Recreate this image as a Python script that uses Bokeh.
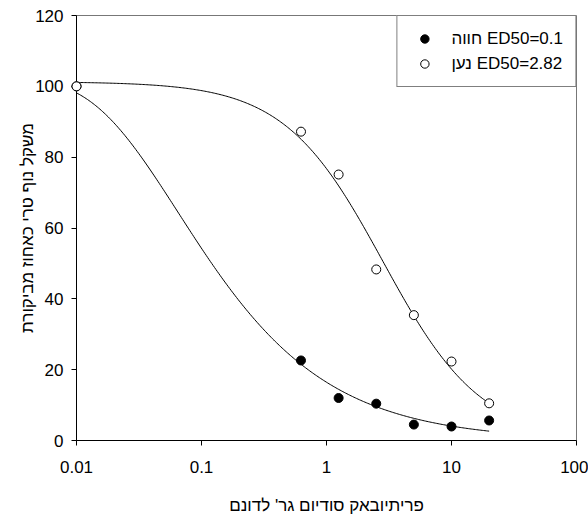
import numpy as np
from bokeh.plotting import figure
from bokeh.models import Range1d, Legend, LegendItem, FixedTicker, CustomJSTickFormatter
from bokeh.embed import file_html
from bokeh.resources import INLINE

# ---- data ----
dose = [0.01, 0.625, 1.25, 2.5, 5, 10, 20]
hava = [100, 22.6, 12.0, 10.4, 4.5, 3.95, 5.65]      # filled circles
naan = [100, 87.2, 75.1, 48.3, 35.4, 22.3, 10.5]     # open circles
series_labels = ["חווה ED50=0.1", "נען ED50=2.82"]
x_ticks = [0.01, 0.1, 1, 10, 100]
x_tick_labels = ["0.01", "0.1", "1", "10", "100"]
y_ticks = [0, 20, 40, 60, 80, 100, 120]
x_title = "פריתיובאק סודיום גר' לדונם"
y_title = "משקל נוף טרי כאחוז מביקורת"

# fitted dose-response curve parameters (estimated from the drawn curves)
hava_fit_top, hava_fit_scale, hava_fit_slope = 102.0, 0.0648, 0.635   # Weibull-type
naan_fit_top, naan_fit_ed50, naan_fit_slope = 101.3, 2.82, 1.1        # log-logistic
curve_range = [0.01, 20]

FONT = "Liberation Sans"

xc = np.logspace(np.log10(curve_range[0]), np.log10(curve_range[1]), 300)
hava_curve = hava_fit_top * (1 - np.exp(-(xc / hava_fit_scale) ** (-hava_fit_slope)))
naan_curve = naan_fit_top / (1 + (xc / naan_fit_ed50) ** naan_fit_slope)

p = figure(width=588, height=517, x_axis_type="log",
           x_range=Range1d(x_ticks[0], x_ticks[-1]), y_range=Range1d(y_ticks[0], y_ticks[-1]),
           output_backend="svg", toolbar_location=None,
           min_border_left=76, min_border_right=12, min_border_top=15, min_border_bottom=77)
p.background_fill_color = "white"
p.border_fill_color = "white"
p.outline_line_color = "#777777"
p.outline_line_width = 1
p.xgrid.visible = False
p.ygrid.visible = False

p.line(xc, hava_curve, line_color="black", line_width=1)
p.line(xc, naan_curve, line_color="black", line_width=1)
r_hava = p.scatter(dose, hava, marker="circle", size=9, fill_color="black",
                   line_color="black", line_width=1, level="overlay")
r_naan = p.scatter(dose, naan, marker="circle", size=9, fill_color="white",
                   line_color="black", line_width=1, level="overlay")

for ax in (p.xaxis[0], p.yaxis[0]):
    ax.axis_line_color = "black"
    ax.major_tick_line_color = "black"
    ax.major_tick_in = 0
    ax.major_tick_out = 5
    ax.minor_tick_line_color = None
    ax.major_label_text_font = FONT
    ax.major_label_text_font_size = "17px"
    ax.major_label_text_color = "black"
    ax.axis_label_text_font = FONT
    ax.axis_label_text_font_size = "17px"
    ax.axis_label_text_font_style = "normal"
    ax.axis_label_text_color = "black"

p.xaxis.ticker = FixedTicker(ticks=x_ticks)
p.xaxis.formatter = CustomJSTickFormatter(args=dict(vals=x_ticks, labels=x_tick_labels), code="""
for (let i = 0; i < vals.length; i++) {
  if (Math.abs(Math.log10(vals[i]) - Math.log10(tick)) < 1e-6) return labels[i];
}
return '';
""")
p.yaxis.ticker = FixedTicker(ticks=y_ticks)
p.xaxis.major_label_standoff = 15
p.yaxis.major_label_standoff = 8
p.xaxis.axis_label = x_title
p.yaxis.axis_label = y_title
p.xaxis.axis_label_standoff = 20
p.yaxis.axis_label_standoff = -5

legend = Legend(items=[LegendItem(label=series_labels[0], renderers=[r_hava]),
                       LegendItem(label=series_labels[1], renderers=[r_naan])],
                location="top_right", margin=0, padding=12, spacing=4,
                glyph_width=30, glyph_height=21, label_height=21, label_standoff=12,
                border_line_color="black", border_line_width=1,
                background_fill_color="white", background_fill_alpha=1,
                label_text_font=FONT, label_text_font_size="17px", label_text_color="black")
p.add_layout(legend)

open("out.html", "w").write(file_html(p, INLINE))
